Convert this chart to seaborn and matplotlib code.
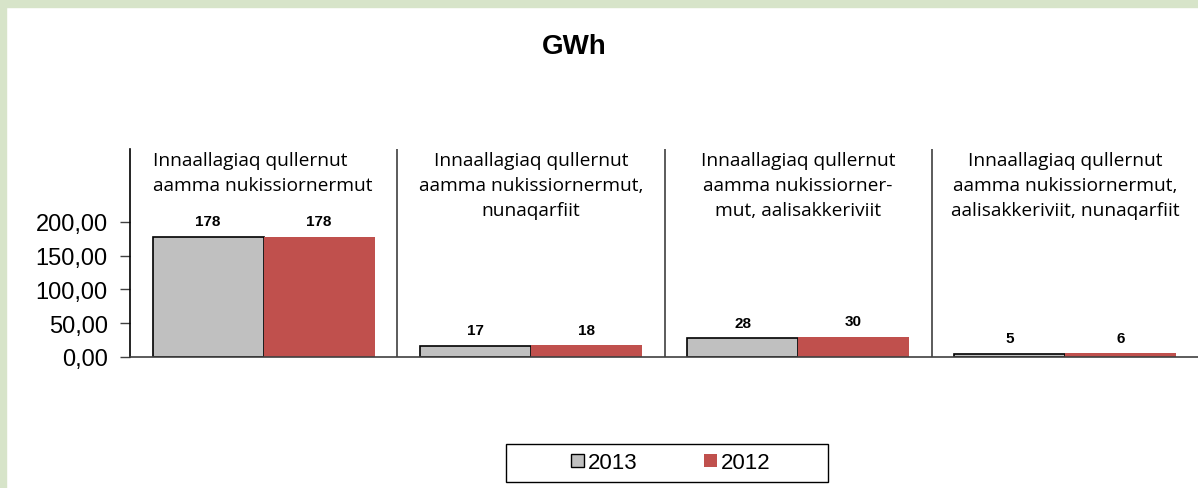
import pandas as pd
import matplotlib.pyplot as plt
import seaborn as sns
from matplotlib.patches import Rectangle, Patch
from matplotlib.ticker import FuncFormatter

# Data
categories = [
    "Innaallagiaq qullernut\naamma nukissiornermut",
    "Innaallagiaq qullernut\naamma nukissiornermut,\nnunaqarfiit",
    "Innaallagiaq qullernut\naamma nukissiorner-\nmut, aalisakkeriviit",
    "Innaallagiaq qullernut\naamma nukissiornermut,\naalisakkeriviit, nunaqarfiit",
]
years = ["2013", "2012"]
values_2013 = [178, 17, 28, 5]
values_2012 = [178, 18, 30, 6]
colors = {"2013": "#c0c0c0", "2012": "#c0504d"}

df = pd.DataFrame({
    "cat": categories * 2,
    "year": ["2013"] * 4 + ["2012"] * 4,
    "value": values_2013 + values_2012,
})

sns.set_style("white")
plt.rcParams['font.family'] = ['Liberation Sans', 'DejaVu Sans']
plt.rcParams['text.color'] = 'black'

fig = plt.figure(figsize=(11.98, 4.89), dpi=100)
W, H = 1198, 489

# green page border (top and left)
fig.patches.append(Rectangle((0, 1 - 8 / H), 1, 8 / H, transform=fig.transFigure,
                             color="#d7e4c9", zorder=0))
fig.patches.append(Rectangle((0, 0), 6 / W, 1, transform=fig.transFigure,
                             color="#d7e4c9", zorder=0))

ax = fig.add_axes([130 / W, 1 - 358 / H, (1199 - 130) / W, (358 - 150) / H])
ax.set_facecolor("none")

sns.barplot(data=df, x="cat", y="value", hue="year", hue_order=years,
            palette=colors, width=0.83, gap=0, saturation=1, legend=False, ax=ax)

# gray bars have a black outline, red ones none
for c, yr in zip(ax.containers, years):
    for p in c:
        if yr == "2013":
            p.set_edgecolor("black")
            p.set_linewidth(1.2)
        else:
            p.set_edgecolor("none")
    ax.bar_label(c, fmt="%.0f", padding=6, fontsize=11, fontweight="bold",
                 color="black")

ax.set_ylim(0, 308)
ax.set_xlim(-0.5, 3.5)
ax.set_yticks([0, 50, 100, 150, 200])
ax.yaxis.set_major_formatter(FuncFormatter(lambda v, _: f"{v:.2f}".replace(".", ",")))
ax.tick_params(axis="y", which="both", left=True, length=7, width=1, labelsize=17,
               colors="#404040", labelcolor="black", pad=9)
ax.set_xticks([])
ax.set_xlabel("")
ax.set_ylabel("")

for s in ["top", "right"]:
    ax.spines[s].set_visible(False)
ax.spines["left"].set_color("black")
ax.spines["left"].set_linewidth(1.2)
ax.spines["bottom"].set_color("#404040")
ax.spines["bottom"].set_linewidth(1.2)

# separators between categories
for xs in [0.5, 1.5, 2.5]:
    ax.axvline(xs, color="#404040", lw=1.2, zorder=1)

# category labels on top of each section
for i, lab in enumerate(categories):
    if i == 0:
        ax.text(-0.415, 0.99, lab, transform=ax.get_xaxis_transform(), ha="left",
                va="top", fontsize=13.8, family=["Open Sans", "DejaVu Sans"],
                linespacing=1.48, multialignment="left")
    else:
        ax.text(i, 0.99, lab, transform=ax.get_xaxis_transform(), ha="center",
                va="top", fontsize=13.8, family=["Open Sans", "DejaVu Sans"],
                linespacing=1.48, multialignment="center")

fig.text(574 / W, 1 - 47 / H, "GWh", ha="center", va="center", fontsize=20,
         fontweight="bold")

# legend with a wide Excel-style box
handles = [Patch(facecolor=colors["2013"], edgecolor="black", label="2013"),
           Patch(facecolor=colors["2012"], edgecolor="none", label="2012")]
fig.legend(handles=handles, loc="center", bbox_to_anchor=(671 / W, 1 - 464 / H),
           ncol=2, frameon=False, fontsize=16, handlelength=0.55, handleheight=0.55,
           handletextpad=0.2, columnspacing=3.0)
fig.patches.append(Rectangle((506 / W, 1 - 483 / H), (828 - 506) / W, (483 - 445) / H,
                             transform=fig.transFigure, facecolor="none",
                             edgecolor="black", lw=1))

fig.savefig("out.png", dpi=100, facecolor="white")
